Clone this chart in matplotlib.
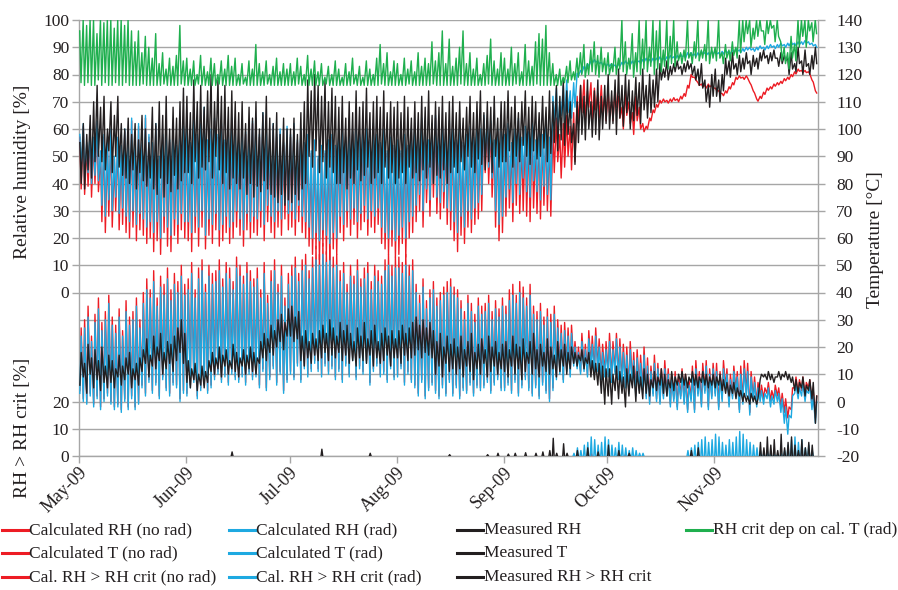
import numpy as np
import matplotlib
matplotlib.use('Agg')
import matplotlib.pyplot as plt
import matplotlib.dates as mdates
from matplotlib.lines import Line2D

plt.rcParams['font.family'] = ['Liberation Serif', 'DejaVu Serif']
plt.rcParams['axes.unicode_minus'] = False

# ---------------- data (daily max / min, 1 May 2009 .. 30 Nov 2009) ----------------
t_rad_hi = [24,27,31,22,29,34,26,30,36,28,25, 31,24,33,28,30,35,27, 36,41,38,44,35,42,39,45,37,43,40, 46,39,
            41,47,38,45,48,40,46,43, 44,48,42,47,45,41,49,46,43,47,44,42, 45,38,47,36,44,48,40,46,35,43,
            46,49,44,48,50,45,49, 52,50,54,51,53,49,50, 44,47,40,46,43,48,42,45,47,41,46,44,43, 48,50,46,49,
            49,47,50,46,48, 40,36,42,34,38,41,35,37,39,40,42, 39,38,34,30,36,33,29,35,32, 33,36,30,34,31,35,
            32,37,39,36,40,38,35,39, 32,30,33,28,31,29,32, 27,25,26,24,25, 20,18,22,19,23,21,24,20,18,19,
            22,19,23,20,18, 17,19,15,16,14,17, 13,11,14,12,10,12, 10,8,9,7,10,8,6, 10,12,9,11,13,10,12,
            11,9,12,10,8,11,9, 10,12,11,9,7,5, 4,3,5,2,4,3, 1,-2,-5,2, 6,5,7,4,6,2,0]
t_rad_lo = [3,0,-1,2,-2,1,-3,0,2,-1,-3, -2,-4,0,-3,1,-3,-1, 5,2,7,3,6,1,8,4,2,6,5, 0,3,
            2,5,7,1,4,6,3,5, 8,10,7,9,6,10,8,7,9,6,10,8, 9,5,11,4,8,12,6,10,3,7,
            10,8,13,7,12,9,11, 14,11,9,13,10,12,8, 11,7,13,9,15,8,12,10,14,6,11,13,9, 10,7,12,8,
            9,12,6,10,7, 5,2,7,1,4,6,3,1,5,2,7, 2,5,1,4,3,6,2,5,4, 5,7,3,6,8,4,
            4,6,3,7,2,5,8,4, 2,5,1,6,3,0,4, 8,10,7,11,9, 13,12,10,11,9,12,10,11,8,9,
            9,7,10,8,6, 5,3,6,2,4,3, 1,-1,2,0,-1,1, 2,-2,0,-3,1,-1,-4, 0,-4,2,-2,3,-3,1,
            2,-3,0,4,-2,1,3, -4,-1,2,-5,0,-2, 0,-1,1,-2,-1,0, -4,-8,-12,-6, 3,1,2,0,3,-3,-8]
t_norad_hi = [27,30,35,24,32,38,29,33,39,31,28, 34,26,37,31,33,38,30, 40,45,41,48,38,46,43,49,41,47,44, 50,43,
              45,51,41,49,52,43,50,47, 48,52,45,51,49,44,53,50,46,51,48,45, 49,41,51,39,48,52,43,50,38,47,
              50,53,47,52,54,48,53, 57,54,58,55,57,53,54, 48,51,43,50,46,52,45,49,51,44,50,48,46, 52,54,50,53,
              53,51,54,50,52, 43,39,45,37,41,44,38,40,42,44,45, 42,41,37,33,39,36,32,38,35, 36,39,33,37,34,38,
              35,41,43,39,44,42,38,43, 35,33,36,31,34,32,35, 30,28,29,27,28, 22,20,25,21,26,24,27,23,21,22,
              25,22,25,23,21, 20,22,18,19,17,20, 16,13,17,14,12,15, 12,10,11,9,12,10,8, 13,15,11,14,15,12,14,
              14,11,15,12,10,13,11, 13,15,14,11,9,7, 6,5,7,4,6,5, 3,1,-2,5, 9,8,9,7,8,4,2]
t_norad_lo = [4,1,0,3,-1,2,-2,1,3,0,-2, -1,-3,1,-2,2,-2,0, 6,3,8,4,7,2,9,5,3,7,6, 1,4,
              3,6,8,2,5,7,4,6, 9,11,8,10,7,11,9,8,10,7,11,9, 10,6,12,5,9,13,7,11,4,8,
              11,9,14,8,13,10,12, 15,12,10,14,11,13,9, 12,8,14,10,16,9,13,11,15,7,12,14,10, 11,8,13,9,
              10,13,7,11,8, 6,3,8,2,5,7,4,2,6,3,8, 3,6,2,5,4,7,3,6,5, 6,8,4,7,9,5,
              5,7,4,8,3,6,9,5, 3,6,2,7,4,1,5, 9,11,8,12,10, 14,13,11,12,10,13,11,12,9,10,
              10,8,11,9,7, 6,4,7,3,5,4, 2,0,3,1,0,2, 3,-1,1,-2,2,0,-3, 1,-3,3,-1,4,-2,2,
              3,-2,1,5,-1,2,4, -3,0,3,-4,1,-1, 2,1,3,0,1,2, -2,-4,-6,-3, 5,3,4,2,5,-1,-6]
t_meas_hi = [18,14,21,16,19,15,20,13,17, 15,12,17,13,16,18,12,14,16, 19,23,17,24,20,25,18,22,21,24, 27,30,25,
             15,12,14,10,13,11,15, 18,16,20,17,19,15,21,18,16,19,17,20,18,16, 22,25,23,28,26,30,32,29,34,
             35,31,33, 24,26,22,25,23,26, 28,25,30,27,24,29,26,28, 25,22,27,24,29,23,26,28,22,25,27,24,26,23,
             26,28,25,27,29, 31,28,30,27,29,26, 22,25,20,24,21,23, 20,24,19,22,25,18,21,23,19,24,20,22,18,21,
             22,19,24,21,20,23,18,22,25,19,21,18,23,20,17,22,19,21,18,20, 18,17,19,16,18,15,14,14,13,12,
             12,10,13,11,9,12,10,13,11,9,12, 10,8,11,9,12,10,8,11,9,10,11, 10,9,11,10,9,11,10,9,10,
             9,10,8, 7,6,7,5,4,3,2,3,2,1, 10,10,11,10,9,11,10,11,10,9, 8,7,9,6,8,7,2]
t_meas_lo = [6,9,3,10,5,8,4,7,5, 7,5,9,6,8,10,5,8,6, 11,14,9,13,12,15,10,12,14,11, 15,18,14,
             7,5,8,4,6,5,7, 11,10,12,9,13,10,12,11,9,13,10,12,11,10, 14,16,15,18,17,20,22,19,24,
             24,22,23, 15,13,16,14,17,15, 16,18,15,17,16,18,15,17, 14,15,13,16,15,14,17,13,16,14,15,17,13,16,
             16,14,17,15,16, 17,19,16,18,17,16, 10,13,9,14,11,12, 10,12,9,13,11,8,12,10,14,9,11,13,10,12,
             11,9,13,10,12,8,11,14,10,12,9,13,11,10,12,9,11,13,10,12, 14,13,15,12,14,9,8,6,3,-1,
             2,-1,4,1,3,-2,2,5,0,3,1, 3,2,5,4,6,3,2,5,4,6,7, 6,5,7,6,5,7,6,5,6,
             5,6,4, 3,2,3,1,2,0,0,-1,0,-1, 8,9,8,8,7,9,8,9,8,7, 4,3,5,2,4,1,-8]

rh_rad_hi = [58,62,55,60,57,63, 52,58,55,60,50,57,54, 60,56,64,58,62,55,65,58, 55,62,50,58,60,56,62,54,59,61,
             60,55,64,58,62,68,56,60,64,58, 62,56,60,64,58,55,62,59,57,63, 64,58,66,60,56,62,58,60,55,61,
             58,62,56,60,55,58,52,56,50,54, 52,56,58,54,60,62,57,64,59,61, 58,63,60,56,62,58,55,60,52,57,54,
             56,52,58,54,60, 62,58,64,60,56,62,65,58,61,57,63, 60,56,62,55,58,61,57,63,60,65,64,63,56,60,59,
             58,62,55,60,64,57,61,59,63,56,60,58,62,57, 72,75,70,76,78,74,77, 80.5,81.5,83,84,85,85.5,85,84.5,84,
             84,84,83.5,84,84.5,85,84.5,85,85.5,85,85.5,86,85.5,86,86, 86.5,86,86.5,87,86.5,87,87.5,87,88,88,87.5,88,88.5,88,88,88.5,
             88.5,88,88.5,89,88.5,89,89.5,89,89.5,90, 90,89.5,90,90.5,90,90.5,91,90.5,91,91.5, 91,91.5,92,91.5,92,92,92.5,92,91.5,91]
rh_rad_lo = [45,42,44,40,43,41, 32,28,34,30,35,29,31, 28,26,30,25,29,27,24,26, 22,26,20,28,24,21,27,25,29,26,
             26,22,28,24,30,21,27,25,29,23, 25,28,24,26,30,27,23,29,26,28, 27,30,25,32,28,26,30,27,33,29,
             30,27,32,28,26,24,20,22,19,23, 21,18,22,20,28,25,30,27,31,26, 29,32,27,30,28,31,24,22,20,23,19,
             21,24,20,26,28, 32,36,30,38,34,40,35,33,37,31,30, 26,22,28,24,30,27,31,33,36,50,46,42,30,25,28,
             35,38,33,40,36,42,37,35,41,37,34,39,36,34, 62,60,65,63,66,64,68, 79.5,80.5,82,83,84,84.5,84,83.5,83,
             83,83,82.5,83,83.5,84,83.5,84,84.5,84,84.5,85,84.5,85,85, 85.5,85,85.5,86,85.5,86,86.5,86,87,87,86.5,87,87.5,87,87,87.5,
             87.5,87,87.5,88,87.5,88,88.5,88,88.5,89, 89,88.5,89,89.5,89,89.5,90,89.5,90,90.5, 90,90.5,91,90.5,91,91,91.5,91,90.5,90]
rh_norad_hi = [57,61,54,59,56,62, 51,57,54,59,49,56,53, 59,55,63,57,61,54,64,57, 54,61,49,57,59,55,61,53,58,60,
               59,54,63,57,61,67,55,59,63,57, 61,55,59,63,57,54,61,58,56,62, 63,57,65,59,55,61,57,59,54,60,
               57,61,55,59,54,57,51,55,49,53, 51,55,57,53,59,61,56,63,58,60, 57,62,59,55,61,57,54,59,51,56,53,
               55,51,57,53,59, 61,57,63,59,55,61,64,57,60,56,62, 59,55,61,54,57,60,56,62,59,64,63,62,55,59,58,
               57,61,54,59,63,56,60,58,62,55,59,57,61,56, 60,64,58,62,65,61,66, 72,76,78,74,77,75,73,76,72,
               74,70,75,72,68,74,70,66,72,68,62, 61,64,67,69,70.5,71,70.5,71,71.5,71,72,73,76,80,79,77,76.5,76,76.5,76,
               75,74,73,74,75.5,77,79,79.5,79,79.5, 77,74,71,72,73.5,75,75.5,76.5,77,77.5, 78.5,79,80,81,82,81.5,81.5,81,78,74]
rh_norad_lo = [38,36,39,35,40,37, 26,22,28,24,30,23,25, 22,20,24,19,23,21,18,20, 15,19,14,22,17,15,21,18,23,20,
               19,15,22,17,24,16,21,18,23,17, 19,22,18,20,24,21,17,23,20,22, 21,24,19,26,22,20,24,21,27,23,
               24,21,26,22,20,17,14,16,12,17, 14,12,16,14,22,19,24,21,25,20, 23,26,21,24,22,25,18,16,14,17,13,
               14,18,13,20,22, 26,30,24,33,28,35,29,27,31,25,23, 19,15,21,18,24,22,25,27,30,44,40,35,24,19,22,
               28,31,26,32,29,30,28,26,31,29,27,32,30,28, 44,48,42,46,50,45,48, 62,66,64,68,63,67,64,66,63,
               66,63,68,64,60,65,62,58,63,60,59, 60,63,66,68,69.5,70,69.5,70,70.5,70,71,72,75,79,78,76,75.5,75,75.5,75,
               74.2,73.2,72.2,73.2,74.7,76.2,78.2,78.7,78.2,78.7, 76.2,73.2,70.2,71.2,72.7,74.2,74.7,75.7,76.2,76.7,
               77.7,78.2,79.2,80.2,81.2,80.7,80.7,80.2,77.2,73.2]
rh_meas_hi = [55,62,58,65,70,76, 68,72,60,70,65,72,62, 60,64,58,62,56,65,60,55, 68,62,70,65,72,60,68,64,70,75,
              72,66,78,70,76,68, 74,80,70,78,72,76,68,74,70, 66,70,62,68,64,70,60,66,72,64, 62,66,58,64,60,
              60,64,58,66,70, 78,74,80,76,72,78,70,75,72, 68,72,64,70,66,74,68,70,75,66,70, 72,68,74,66,70,68,
              70,66,72,68,64,70,66,72,68,74,65,70,68,72,66,70, 72,66,70,64,68,72,66,70,74,66,70,68,72,64,70,
              70,74,68,72,66,70,74,68,72,70,66,72,68,74,70,76,72,78,74,70, 62,70,76,72,78,70,74,78,72,76,
              80,74,78,82,76,80,78,74,79,77,82,76,80,78,82, 84,82,85,83,84,85,83,84,85, 84,83,82,84,78,76,80,
              82,78,80, 86,85,88,84,87,86,88,85,87,86, 88,89,87,88,89,86,88,87, 86,88,84,90,85,89,84,87,90]
rh_meas_lo = [40,38,45,42,48,50, 48,45,52,44,50,46,43, 42,40,45,38,44,41,39,42, 38,36,42,35,40,37,43,38,41,44,
              44,40,48,42,46,45, 48,42,50,45,40,44,38,42,40, 38,42,36,40,35,39,37,41,38,36, 35,33,36,32,34,
              33,36,34,38,40, 50,46,52,44,48,42,46,44,40, 40,44,38,42,40,45,41,43,46,40,42, 44,40,46,42,44,40,
              42,44,40,46,42,44,41,45,42,46,40,43,42,45,40,44, 46,44,48,45,50,46,44,49,47,45,48,44,50,46,48,
              48,52,46,50,48,54,50,47,52,49,50,53,48,51,55,52,56,54,58,55, 47,55,58,56,60,57,58,56,60,62,
              60,62,58,64,61,66,60,63,65,62,67,64,66,68,70, 78,79,78,80,81,82,80,81,82, 80,78,76,75,70,68,72,
              72,70,74, 80,79,82,80,81,82,84,80,83,82, 85,86,84,85,86,83,84,85, 80,82,81,84,80,83,80,82,84]
rhcrit_hi = [96,100,98,100,100,95,100,99,100,100,97,100,100,98,100,96, 92,96,88,94,90,86,95, 84,88,82,86,83,87,98,85,
             86,82,85,80,87,83,81,86,84,80,85,82,87, 83,86,80,84,79,85,82,91,84,81, 85,80,83,86,81,84,82,
             84,81,86,83,80,87,82,85, 81,84,79,83,80,85,82,79,84,81,86,80,83,79,85,82,80, 86,91,84,88,81,85,
             84,80,86,82,85,81,88,83,86,84,92,85,88,96,84, 93,83,86,90,96,84,88,82,86,80,84,87,93,85,82,88,
             86,82,90,84,88,81,91,85,83,92,95,93,98,88, 84,80,82,79,83,85,81, 86,88,91,84,89,92,87,90,86,
             88,84,90,86, 100,92,86,95,88,100,93,100,90,100,96,100,89,100,94,100,92,88, 89,100,88,92,100,89,91,100,90,
             90,100,88,91,89,92,90,100, 100,100,100,97,100,100,96,100,100,98,100, 92,90,88,94,91,100, 100,100,100,99,100]
rhcrit_lo = [77,76,77,76,76,78,76,77,76,76,77,76,76,77,76,76, 76,76,76.5,76,76,76,76, 76,76.5,76,76,76,76,76.5,76,
             76,76,76,76.5,76,76,76,76,76,76.5,76,76,76,76,76,76,76.5,76,76,76,76,76,76,76.5,76,76,76,76,76,76,
             76,76,76.5,76,76,76,76,76,76,76,76.5,76,76,76,76,76,76,76,76.5,76,76,76,76,76,76,76,76.5,76,76,76,76,
             76,76,76,76.5,76,76,76,76,76,76,76.5,76,76,76,76,76,76,76,76.5,76,76,76,76,76,76,76,76.5,76,76,76,76,
             76,76,76,76.5,76,76,76,76,76,76.5,76,76,76,76, 76,76,76,77,77,78,78, 79,80,79,80,81,80,79,81,80,
             80,81,80,82, 81,80,82,79,81,80,82,81,83,80,82,81,83,82,84,83,85,84, 85,86,84,86,85,86,85,84,86,
             85,86,84,86,85,87,86,88, 92,95,90,93,94,96,91,95,97,92,94, 85,84,82,86,85,90, 94,90,96,92,95]

# RH > RH crit (day index, value in %)
ex_meas_day = [44, 70, 84, 107, 118, 121, 124, 126, 129, 132, 134, 136, 137, 138, 140, 141,
               144, 147, 150, 153, 156, 159, 177, 179,
               197, 198, 199, 200, 201, 202, 203, 204, 205, 206, 207, 208, 209, 210, 211, 212]
ex_meas_val = [1.5, 2.5, 1, 0.5, 0.5, 1, 0.7, 1, 1.2, 1, 1.5, 2, 6.5, 1, 4.5, 1,
               2, 3, 1.5, 4, 2, 1, 2, 3,
               5, 3, 7, 4, 6, 2, 8, 3, 5, 7, 4, 2, 6, 3, 5, 4]
ex_rad_day = list(range(143, 164)) + list(range(176, 213))
ex_rad_val = [1,3,2,4,5,7,6,4,5,7,6,4,3,5,4,3,2,3,2,1,1,
              2,3,4,5,6,7,5,6,8,7, 5,4,6,5,7,9,8,6,5,4, 3,2,1,2,1,0.5,0.5,1,2,4, 6,7,5,6,3,4,2]
ex_norad_day = [148, 158, 177, 209]
ex_norad_val = [1, 0.8, 1, 1.5]

legend_cols = [
    [('Calculated RH (no rad)', 'red'), ('Calculated T (no rad)', 'red'), ('Cal. RH > RH crit (no rad)', 'red')],
    [('Calculated RH (rad)', 'blue'), ('Calculated T (rad)', 'blue'), ('Cal. RH > RH crit (rad)', 'blue')],
    [('Measured RH', 'black'), ('Measured T', 'black'), ('Measured RH > RH crit', 'black')],
    [('RH crit dep on cal. T (rad)', 'green')],
]

# ---------------- style ----------------
COL = {'red': '#ED1C24', 'blue': '#1EA9E1', 'black': '#231F20', 'green': '#1FAF4E'}
GRID = '#A6A6A6'
TXT = '#231F20'
LW = 1.0

start = np.datetime64('2009-05-01T00:00')


def diurnal(hi, lo, hi_h, lo_h):
    hi = np.asarray(hi, float)
    lo = np.asarray(lo, float)
    n = min(len(hi), len(lo))
    hi, lo = hi[:n], lo[:n]
    d = np.arange(n) * 24
    th = start + (d + hi_h).astype('timedelta64[h]')
    tl = start + (d + lo_h).astype('timedelta64[h]')
    t = np.empty(2 * n, dtype='datetime64[h]')
    v = np.empty(2 * n)
    if hi_h < lo_h:
        t[0::2], v[0::2], t[1::2], v[1::2] = th, hi, tl, lo
    else:
        t[0::2], v[0::2], t[1::2], v[1::2] = tl, lo, th, hi
    return t, v


def spikes(days, vals):
    t, v = [], []
    for d, x in zip(days, vals):
        h = int(round(d * 24))
        t += [start + np.timedelta64(h + 2, 'h'), start + np.timedelta64(h + 8, 'h'),
              start + np.timedelta64(h + 14, 'h'), start + np.timedelta64(h + 15, 'h')]
        v += [0.0, x, 0.0, np.nan]
    return np.array(t, dtype='datetime64[h]'), np.array(v)


fig = plt.figure(figsize=(8.98, 5.90), dpi=100)
L, R, T, B = 79, 818, 20, 456
ax = fig.add_axes([L / 898, 1 - B / 590, (R - L) / 898, (B - T) / 590])
ax_rh = ax.twinx()
ax_ex = ax.twinx()

# temperature axis (right)
ax.set_ylim(-20, 140)
ax.set_yticks(np.arange(-20, 141, 10))
ax.grid(axis='y', color=GRID, lw=1.0)
ax.set_axisbelow(True)
ax.set_xlim(np.datetime64('2009-05-01'), np.datetime64('2009-12-01'))
ax.xaxis.set_major_locator(mdates.MonthLocator(bymonth=range(5, 12)))
ax.xaxis.set_major_formatter(mdates.DateFormatter('%b-%y'))
for s in ['left', 'right', 'bottom']:
    ax.spines[s].set_color(GRID)
    ax.spines[s].set_linewidth(1.0)
ax.spines['top'].set_visible(False)
ax.yaxis.tick_right()
ax.tick_params(axis='y', which='both', right=True, left=False, labelright=True, labelleft=False,
               length=5, width=1, color=GRID, pad=8, labelsize=12.5, labelcolor=TXT)
ax.tick_params(axis='x', length=5, width=1, color=GRID, labelsize=13, labelcolor=TXT, pad=1)
for lab in ax.get_xticklabels():
    lab.set_rotation(45)
    lab.set_ha('right')
    lab.set_va('top')
    lab.set_rotation_mode('anchor')

tt, v = diurnal(t_norad_hi, t_norad_lo, 15, 6)
ax.plot(tt, v, color=COL['red'], lw=LW, zorder=2)
tt, v = diurnal(t_rad_hi, t_rad_lo, 15, 6)
ax.plot(tt, v, color=COL['blue'], lw=LW, zorder=3)
tt, v = diurnal(t_meas_hi, t_meas_lo, 15, 6)
ax.plot(tt, v, color=COL['black'], lw=LW, zorder=4)

# relative humidity axis (left, upper part)
ax_rh.set_ylim(-60, 100)
ax_rh.set_yticks(np.arange(0, 101, 10))
ax_rh.yaxis.tick_left()
for s in ax_rh.spines.values():
    s.set_visible(False)
ax_rh.tick_params(axis='y', left=True, right=False, labelleft=True, labelright=False,
                  length=5, width=1, color=GRID, pad=2, labelsize=12.5, labelcolor=TXT)
tt, v = diurnal(rh_norad_hi, rh_norad_lo, 6, 15)
ax_rh.plot(tt, v, color=COL['red'], lw=LW, zorder=2)
tt, v = diurnal(rh_rad_hi, rh_rad_lo, 6, 15)
ax_rh.plot(tt, v, color=COL['blue'], lw=LW, zorder=3)
tt, v = diurnal(rh_meas_hi, rh_meas_lo, 6, 15)
ax_rh.plot(tt, v, color=COL['black'], lw=LW, zorder=4)
tt, v = diurnal(rhcrit_hi, rhcrit_lo, 5, 14)
ax_rh.plot(tt, v, color=COL['green'], lw=LW, zorder=5)

# RH > RH crit axis (left, lower part)
ax_ex.set_ylim(0, 160)
ax_ex.set_yticks([0, 10, 20])
ax_ex.yaxis.tick_left()
for s in ax_ex.spines.values():
    s.set_visible(False)
ax_ex.tick_params(axis='y', left=True, right=False, labelleft=True, labelright=False,
                  length=5, width=1, color=GRID, pad=2, labelsize=12.5, labelcolor=TXT)
tt, v = spikes(ex_norad_day, ex_norad_val)
ax_ex.plot(tt, v, color=COL['red'], lw=LW, zorder=2)
tt, v = spikes(ex_rad_day, ex_rad_val)
ax_ex.plot(tt, v, color=COL['blue'], lw=LW, zorder=3)
tt, v = spikes(ex_meas_day, ex_meas_val)
ax_ex.plot(tt, v, color=COL['black'], lw=LW, zorder=4)
ax_ex.set_xlim(np.datetime64('2009-05-01'), np.datetime64('2009-12-01'))

# axis titles
fig.text(23 / 898, 1 - 172 / 590, 'Relative humidity [%]', rotation=90, ha='center', va='center',
         fontsize=14, color=TXT)
fig.text(23 / 898, 1 - 428 / 590, 'RH > RH crit [%]', rotation=90, ha='center', va='center',
         fontsize=14, color=TXT)
fig.text(876 / 898, 1 - 240 / 590, 'Temperature [°C]', rotation=90, ha='center', va='center',
         fontsize=14, color=TXT)

# legend (4 columns x 3 rows)
col_x = [2, 229, 457, 686]
row_y = [530, 553, 577]
for cx, entries in zip(col_x, legend_cols):
    for ry, (label, c) in zip(row_y, entries):
        fig.add_artist(Line2D([cx / 898, (cx + 26) / 898], [1 - ry / 590, 1 - ry / 590],
                              transform=fig.transFigure, color=COL[c], lw=2.2))
        fig.text((cx + 27) / 898, 1 - ry / 590, label, ha='left', va='center',
                 fontsize=12.5, color=TXT)

fig.savefig('out.png', dpi=100)
